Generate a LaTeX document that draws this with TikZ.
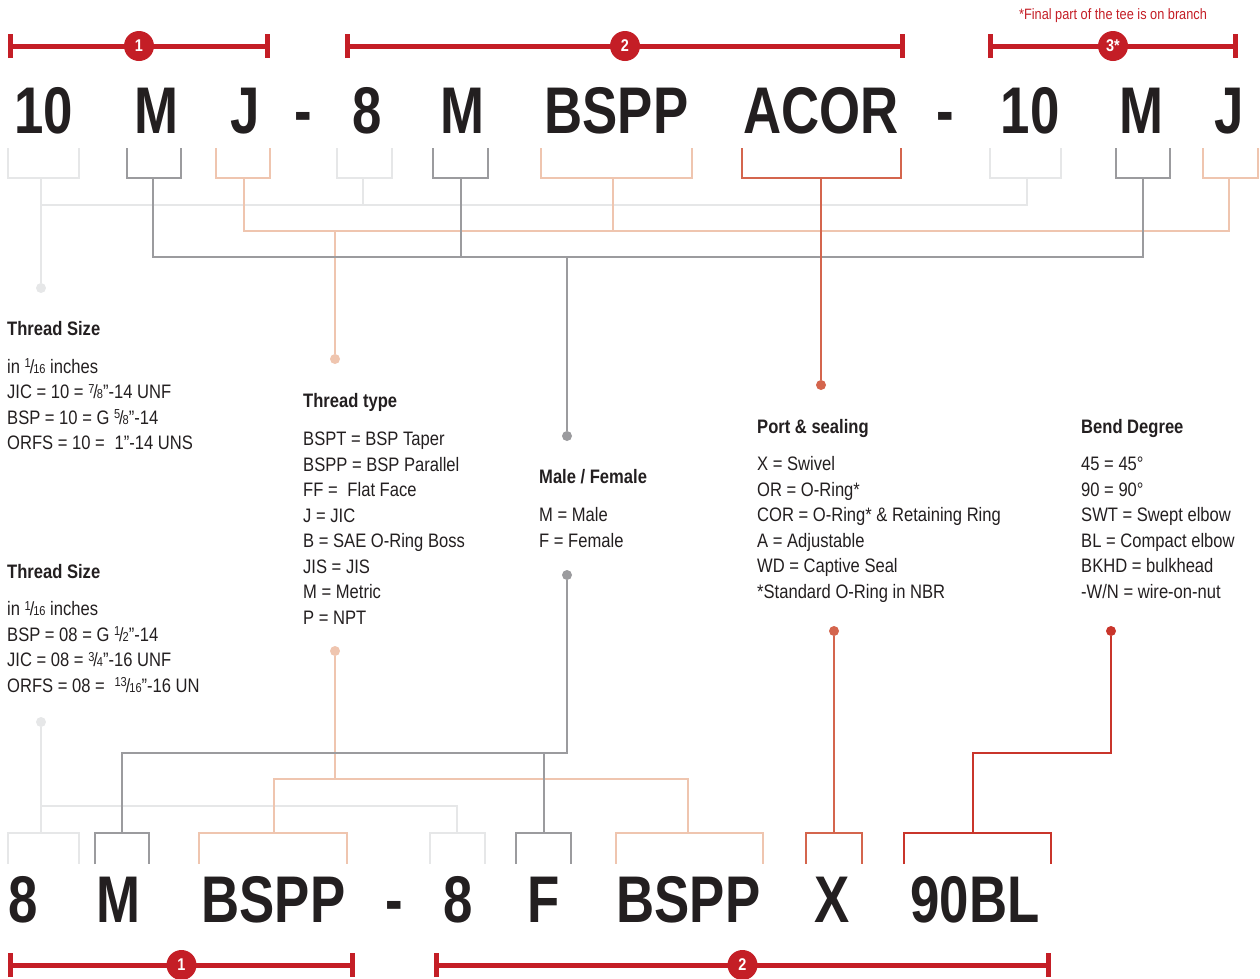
\documentclass[tikz,border=0pt]{standalone}
\usepackage{fontspec}
\setmainfont{Liberation Sans}[FakeStretch=0.85]
\newfontfamily\codefont{Liberation Sans Bold}[FakeStretch=0.8]
\usetikzlibrary{arrows.meta,positioning}

\definecolor{ink}{HTML}{231F20}
\definecolor{tred}{HTML}{C41E26}
\definecolor{bred}{HTML}{C9352B}
\definecolor{rust}{HTML}{D4654D}
\definecolor{peach}{HTML}{EFC5AF}
\definecolor{mgrey}{HTML}{9B9B9E}
\definecolor{lgrey}{HTML}{E6E7E8}

\newcommand{\fr}[2]{\raisebox{0.5ex}{\fontsize{13}{13}\selectfont#1}\kern-1pt{\fontsize{19}{19}\selectfont/}\kern-1pt{\fontsize{13}{13}\selectfont#2}}

\begin{document}
\begin{tikzpicture}[x=1pt, y=-1pt,
  code/.style={anchor=base, inner sep=0, text=ink, font=\codefont\fontsize{66}{66}\selectfont},
  info/.style={anchor=base west, align=left, inner sep=0, text=ink, font=\fontsize{19.5}{25.5}\selectfont},
  conn/.style={line width=2.5pt},
  dot/.style={circle, inner sep=0, minimum size=10pt},
  span/.style={draw=tred, line width=5pt, {Bar[width=24pt]}-{Bar[width=24pt]}},
  badge/.style={circle, fill=tred, inner sep=0, minimum size=30pt, text=white, font=\bfseries\fontsize{17}{17}\selectfont},
]
  \useasboundingbox (0,0) rectangle (1260,978);

  % top code
  \node[text=tred, font=\fontsize{15}{15}\selectfont] (tee) at (1113,16) {*Final part of the tee is on branch};
  \draw[span] (8,46) -- node[badge] (top1) {1} (270,46);
  \draw[span] (345,46) -- node[badge] (top2) {2} (905,46);
  \draw[span] (988,46) -- node[badge] (top3) {3*} (1238,46);
  \foreach \x/\t [count=\i] in {43.5/10, 156.5/M, 245/J, 303.5/-, 367/8, 462.5/M, 616.5/BSPP,
      821/ACOR, 945.5/-, 1030/10, 1141.5/M, 1229/J}
    \node[code] (top-\i) at (\x,133) {\t};
  \foreach \l/\r/\c in {8/79/lgrey, 127/181/mgrey, 216/270/peach, 337/392/lgrey, 433/488/mgrey,
      541/692/peach, 742/901/rust, 990/1061/lgrey, 1116/1170/mgrey, 1203/1258/peach}
    \draw[conn, draw=\c] (\l,148) |- (\r,178) -- (\r,148);

  \coordinate (t-size1) at (41,178);
  \coordinate (t-mf1) at (153,178);
  \coordinate (t-type1) at (244,178);
  \coordinate (t-size2) at (363,178);
  \coordinate (t-mf2) at (461,178);
  \coordinate (t-type2) at (613,178);
  \coordinate (t-port) at (821,178);
  \coordinate (t-size3) at (1027,178);
  \coordinate (t-mf3) at (1143,178);
  \coordinate (t-type3) at (1229,178);
  \coordinate (j-size) at (41,205);
  \coordinate (j-type) at (335,231);
  \coordinate (j-mf) at (567,257);

  \node[dot, fill=lgrey] (d-size) at (41,288) {};
  \node[dot, fill=peach] (d-type) at (335,359) {};
  \node[dot, fill=mgrey] (d-mf) at (567,436) {};
  \node[dot, fill=rust] (d-port) at (821,385) {};

  \draw[conn, lgrey] (t-size1) -- (d-size);
  \draw[conn, lgrey] (t-size2) |- (j-size);
  \draw[conn, lgrey] (t-size3) |- (j-size);
  \draw[conn, peach] (t-type1) |- (j-type);
  \draw[conn, peach] (t-type2) |- (j-type);
  \draw[conn, peach] (t-type3) |- (j-type);
  \draw[conn, peach] (j-type) -- (d-type);
  \draw[conn, mgrey] (t-mf1) |- (j-mf);
  \draw[conn, mgrey] (t-mf2) |- (j-mf);
  \draw[conn, mgrey] (t-mf3) |- (j-mf);
  \draw[conn, mgrey] (j-mf) -- (d-mf);
  \draw[conn, rust] (t-port) -- (d-port);

  % legends (placed at the baseline of their last line)
  \node[info] (size1) at (7,449.5) {\textbf{Thread Size}\\[12.5pt]
    in \fr{1}{16} inches\\
    JIC = 10 = \fr{7}{8}”-14 UNF\\
    BSP = 10 = G \fr{5}{8}"-14\\
    ORFS = 10 =\enspace 1”-14 UNS};
  \node[info] (type) at (303,624) {\textbf{Thread type}\\[12.5pt]
    BSPT = BSP Taper\\
    BSPP = BSP Parallel\\
    FF =\enspace Flat Face\\
    J = JIC\\
    B = SAE O-Ring Boss\\
    JIS = JIS\\
    M = Metric\\
    P = NPT};
  \node[info] (mf) at (539,547) {\textbf{Male / Female}\\[12.5pt]
    M = Male\\
    F = Female};
  \node[info] (port) at (757,598) {\textbf{Port \& sealing}\\[11.5pt]
    X = Swivel\\
    OR = O-Ring*\\
    COR = O-Ring* \& Retaining Ring\\
    A = Adjustable\\
    WD = Captive Seal\\
    *Standard O-Ring in NBR};
  \node[info] (bend) at (1081,598) {\textbf{Bend Degree}\\[11.5pt]
    45 = 45°\\
    90 = 90°\\
    SWT = Swept elbow\\
    BL = Compact elbow\\
    BKHD = bulkhead\\
    -W/N = wire-on-nut};
  \node[info] (size2) at (7,692) {\textbf{Thread Size}\\[11.5pt]
    in \fr{1}{16} inches\\
    BSP = 08 = G \fr{1}{2}"-14\\
    JIC = 08 = \fr{3}{4}”-16 UNF\\
    ORFS = 08 =\enspace \fr{13}{16}”-16 UN};

  % bottom code
  \node[dot, fill=lgrey] (d-size2) at (41,722) {};
  \node[dot, fill=peach] (d-type2) at (335,651) {};
  \node[dot, fill=mgrey] (d-mf2) at (567,575) {};
  \node[dot, fill=rust] (d-port2) at (834,631) {};
  \node[dot, fill=bred] (d-bend) at (1111,631) {};

  \coordinate (b-size1) at (41,833);
  \coordinate (b-mf1) at (122,833);
  \coordinate (b-type1) at (274,833);
  \coordinate (b-size2) at (457,833);
  \coordinate (b-mf2) at (544,833);
  \coordinate (b-type2) at (688,833);
  \coordinate (b-port) at (834,833);
  \coordinate (b-bend) at (973,833);
  \coordinate (j-size2) at (41,806);
  \coordinate (j-type2) at (335,779);
  \coordinate (j-mf2) at (567,753);
  \coordinate (j-bend) at (1111,753);

  \draw[conn, lgrey] (d-size2) -- (b-size1);
  \draw[conn, lgrey] (b-size2) |- (j-size2);
  \draw[conn, peach] (d-type2) -- (j-type2) -| (b-type1);
  \draw[conn, peach] (j-type2) -| (b-type2);
  \draw[conn, mgrey] (d-mf2) -- (j-mf2) -| (b-mf1);
  \draw[conn, mgrey] (j-mf2) -| (b-mf2);
  \draw[conn, rust] (d-port2) -- (b-port);
  \draw[conn, bred] (d-bend) -- (j-bend) -| (b-bend);

  \foreach \l/\r/\c in {8/79/lgrey, 95/149/mgrey, 199/347/peach, 430/485/lgrey, 516/571/mgrey,
      616/763/peach, 806/862/rust, 904/1051/bred}
    \draw[conn, draw=\c] (\l,864) |- (\r,833) -- (\r,864);
  \foreach \x/\t [count=\i] in {23/8, 118.5/M, 273.5/BSPP, 394.5/-, 458/8, 544/F, 688.5/BSPP,
      832/X, 975/90BL}
    \node[code] (bot-\i) at (\x,922) {\t};
  \draw[span] (8,965) -- node[badge] (bot1) {1} (355,965);
  \draw[span] (434,965) -- node[badge] (bot2) {2} (1051,965);
\end{tikzpicture}
\end{document}
